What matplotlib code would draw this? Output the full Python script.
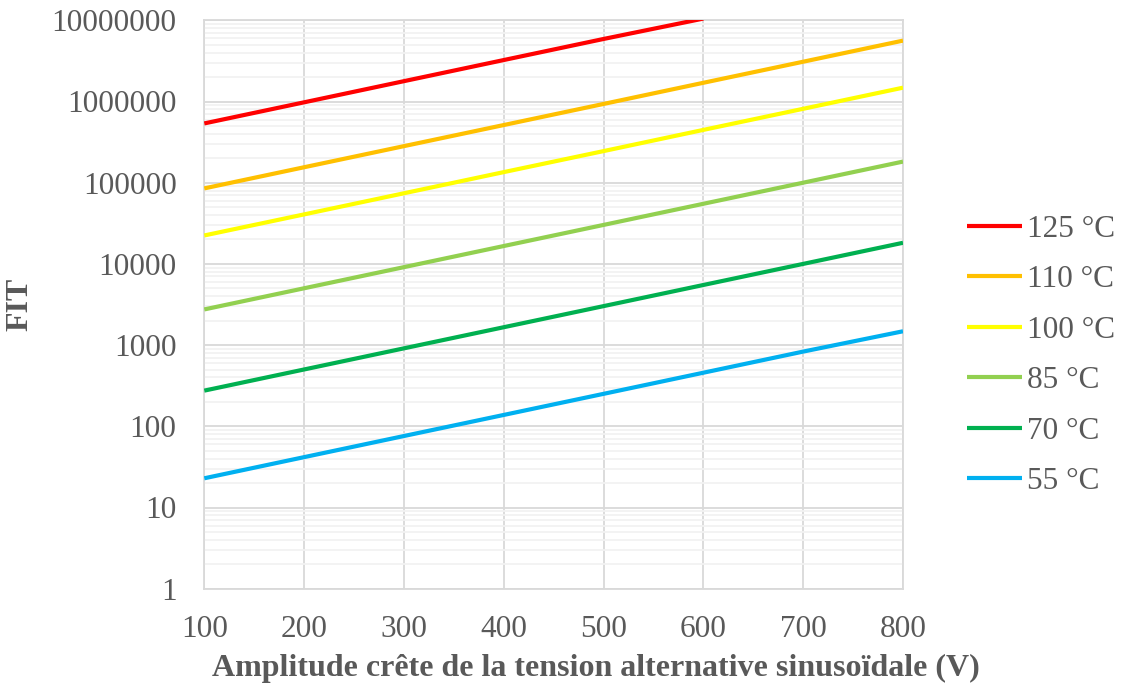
import numpy as np
import matplotlib
matplotlib.use("Agg")
import matplotlib.pyplot as plt
from matplotlib.ticker import LogLocator, NullFormatter

voltages = [100, 200, 300, 400, 500, 600, 700, 800]
labels = ["125 °C", "110 °C", "100 °C", "85 °C", "70 °C", "55 °C"]
colors = ["#FF0000", "#FFC000", "#FFFF00", "#92D050", "#00B050", "#00B0F0"]

fit_125 = [537000, 977000, 1780000, 3240000, 5890000, 10500000, np.nan, np.nan]
fit_110 = [85100, 155000, 282000, 513000, 933000, 1700000, 3090000, 5620000]
fit_100 = [22400, 40700, 74100, 135000, 245000, 447000, 813000, 1480000]
fit_85 = [2750, 5010, 9120, 16600, 30200, 55000, 100000, 182000]
fit_70 = [275, 501, 912, 1660, 3020, 5500, 10000, 18200]
fit_55 = [22.9, 41.7, 75.9, 138, 251, 457, 832, 1480]
series = [fit_125, fit_110, fit_100, fit_85, fit_70, fit_55]

y_ticks = [1, 10, 100, 1000, 10000, 100000, 1000000, 10000000]
y_tick_labels = ["1", "10", "100", "1000", "10000", "100000", "1000000", "10000000"]

plt.rcParams["font.family"] = ["Liberation Serif", "DejaVu Serif"]
text_color = "#595959"
grid_major = "#D9D9D9"
grid_minor = "#F2F2F2"

fig = plt.figure(figsize=(11.24, 6.90), dpi=100)
ax = fig.add_axes([204.3 / 1124, 1 - 588.7 / 690, (903 - 204.3) / 1124, (588.7 - 20.3) / 690])

for vals, lab, col in zip(series, labels, colors):
    ax.plot(voltages, vals, color=col, lw=3.0, label=lab, solid_capstyle="butt", zorder=3)

ax.set_yscale("log")
ax.set_ylim(1, 1e7)
ax.set_xlim(100, 800)
ax.set_xticks(voltages)
ax.set_yticks(y_ticks)
ax.set_yticklabels(y_tick_labels)
ax.yaxis.set_minor_locator(LogLocator(base=10, subs=np.arange(2, 10), numticks=20))
ax.yaxis.set_minor_formatter(NullFormatter())

ax.grid(True, which="major", axis="both", color=grid_major, lw=1.3, zorder=1)
ax.grid(True, which="minor", axis="y", color=grid_minor, lw=1.3, zorder=0)
ax.tick_params(axis="both", which="both", length=0, colors=text_color, labelsize=22.5)
ax.tick_params(axis="y", pad=20)
ax.tick_params(axis="x", pad=19)
for s in ax.spines.values():
    s.set_color(grid_major)
    s.set_linewidth(1.3)

fig.text(20 / 1124, 1 - 304.5 / 690, "FIT", rotation=90, ha="center", va="center",
         fontsize=23, fontweight="bold", color=text_color)
fig.text(595.5 / 1124, 1 - 668 / 690, "Amplitude crête de la tension alternative sinusoïdale (V)",
         ha="center", va="center", fontsize=23, fontweight="bold", color=text_color)

leg = fig.legend(loc="center left", bbox_to_anchor=(967 / 1124, 1 - 355.5 / 690), frameon=False,
                 fontsize=22.5, handlelength=1.76, handletextpad=0.16, labelspacing=0.69,
                 borderpad=0, borderaxespad=0)
for t in leg.get_texts():
    t.set_color(text_color)

fig.savefig("out.png", dpi=100)
